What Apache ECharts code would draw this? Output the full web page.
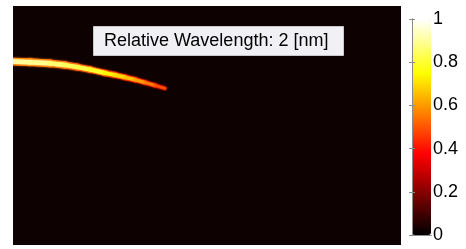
<!DOCTYPE html>
<html>
<head>
<meta charset="utf-8">
<script src="https://cdn.jsdelivr.net/npm/echarts@6/dist/echarts.min.js"></script>
<style>
  html, body { margin: 0; padding: 0; background: #fff; }
  #chart { width: 466px; height: 249px; }
</style>
</head>
<body>
<div id="chart"></div>
<script>
// arc centre line, in plot units (0..388 across, 0..239 down)
var arcX = [0, 17, 37, 52, 64, 77, 92, 102, 112, 122, 132, 142, 152];
var arcY = [55.5, 56.2, 57.3, 59, 61, 63.5, 67, 69, 71.3, 73.7, 76.5, 79.3, 82.3];
// intensity at the core of the arc and at its rim
var arcCore = [0.9, 0.89, 0.86, 0.84, 0.82, 0.79, 0.74, 0.7, 0.66, 0.61, 0.56, 0.49, 0.4];
var arcEdge = [0.55, 0.55, 0.52, 0.5, 0.48, 0.46, 0.43, 0.41, 0.39, 0.36, 0.33, 0.29, 0.24];
var barTicks = [0, 0.2, 0.4, 0.6, 0.8, 1];
var titleText = 'Relative Wavelength: 2 [nm]';

// matlab "hot"
var hot = ['#000000', '#550000', '#aa0000', '#ff0000', '#ff5500', '#ffaa00', '#ffff00', '#ffff80', '#ffffff'];

var chart = echarts.init(document.getElementById('chart'));

function segment(widthOf) {
  return function (params, api) {
    var i = params.dataIndex;
    if (i >= arcX.length - 1) return;
    var p0 = api.coord([arcX[i], arcY[i]]);
    var p1 = api.coord([arcX[i + 1], arcY[i + 1]]);
    var v = api.value(2);
    var c = api.visual('color');
    return {
      type: 'line',
      shape: { x1: p0[0], y1: p0[1], x2: p1[0], y2: p1[1] },
      style: { stroke: c, lineWidth: widthOf(v), lineCap: 'round', shadowBlur: 2, shadowColor: c }
    };
  };
}

function arcData(vals) {
  return arcX.map(function (x, i) { return [x, arcY[i], vals[i]]; });
}

var axisGrey = { color: '#8a8a8a' };

chart.setOption({
  animation: false,
  title: {
    text: titleText,
    left: 93, top: 26,
    padding: [6, 15, 6, 11],
    backgroundColor: '#f1f1f5',
    borderColor: '#c8c8c8',
    borderWidth: 1,
    textStyle: { fontFamily: 'Liberation Sans, Arial', fontSize: 18, fontWeight: 'normal', color: '#000', lineHeight: 18 }
  },
  grid: [
    { left: 13, top: 6, width: 388, height: 239, show: true, backgroundColor: '#0d0101', borderWidth: 0 },
    { left: 412, top: 19, width: 19, height: 216 }
  ],
  xAxis: [
    { gridIndex: 0, type: 'value', min: 0, max: 388, show: false },
    { gridIndex: 1, type: 'value', min: 0, max: 1, z: 10, position: 'bottom',
      axisLine: { show: true, lineStyle: axisGrey }, axisTick: { show: false }, axisLabel: { show: false }, splitLine: { show: false } },
    { gridIndex: 1, type: 'value', min: 0, max: 1, z: 10, position: 'top',
      axisLine: { show: true, lineStyle: axisGrey }, axisTick: { show: false }, axisLabel: { show: false }, splitLine: { show: false } }
  ],
  yAxis: [
    { gridIndex: 0, type: 'value', min: 0, max: 239, inverse: true, show: false },
    { gridIndex: 1, type: 'value', min: 0, max: 1, interval: 0.2, position: 'right', z: 10,
      axisLine: { show: true, lineStyle: axisGrey },
      axisTick: { show: true, inside: true, length: 3, lineStyle: axisGrey },
      splitLine: { show: false },
      axisLabel: {
        margin: 2, fontSize: 18, color: '#000', fontFamily: 'Liberation Sans, Arial',
        formatter: function (v) { var r = +v.toFixed(1); return barTicks.indexOf(r) >= 0 ? String(r) : ''; }
      } },
    { gridIndex: 1, type: 'value', min: 0, max: 1, interval: 0.2, position: 'left', z: 10,
      axisLine: { show: true, lineStyle: axisGrey },
      axisTick: { show: true, inside: true, length: 3, lineStyle: axisGrey },
      axisLabel: { show: false }, splitLine: { show: false } }
  ],
  visualMap: {
    type: 'continuous',
    min: 0, max: 1,
    dimension: 2,
    seriesIndex: [0, 1],
    left: 412, top: 19,
    itemWidth: 19, itemHeight: 216,
    padding: 0,
    calculable: false,
    hoverLink: false,
    showLabel: false,
    text: ['', ''],
    inRange: { color: hot }
  },
  series: [
    { type: 'custom', xAxisIndex: 0, yAxisIndex: 0, clip: true, data: arcData(arcEdge),
      renderItem: segment(function (v) { return 15 * v - 0.5; }) },
    { type: 'custom', xAxisIndex: 0, yAxisIndex: 0, clip: true, data: arcData(arcCore),
      renderItem: segment(function (v) { return 5 * v; }) }
  ]
});
</script>
</body>
</html>
